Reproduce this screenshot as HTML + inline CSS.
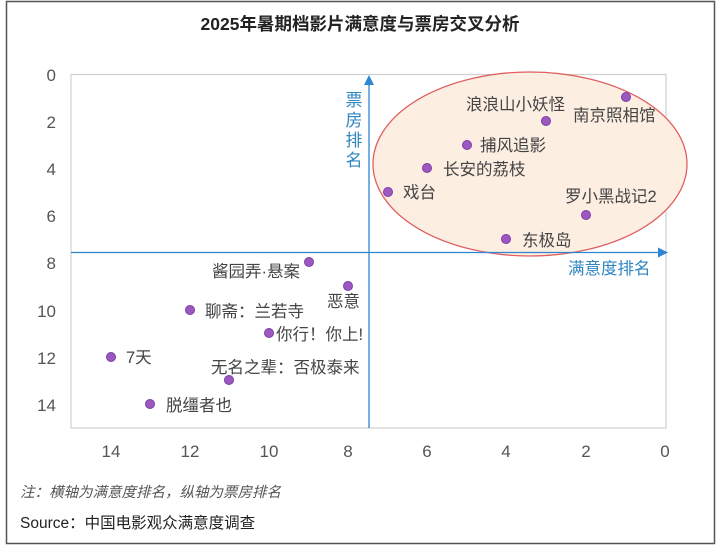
<!DOCTYPE html>
<html><head><meta charset="utf-8"><style>
body{margin:0;background:#fff;}
svg text{font-family:"Liberation Sans","Noto Sans CJK SC",sans-serif;}
</style></head><body>
<svg width="719" height="546" viewBox="0 0 719 546" xmlns="http://www.w3.org/2000/svg">
<rect x="6.5" y="1.5" width="708" height="542" fill="#fff" stroke="#555" stroke-width="1.5"/>
<text x="360" y="30" font-size="17.5" font-weight="bold" text-anchor="middle" fill="#222">2025年暑期档影片满意度与票房交叉分析</text>
<rect x="71" y="74.5" width="595" height="353.5" fill="none" stroke="#d0d0d0" stroke-width="1.2"/>
<g font-size="17" fill="#555" text-anchor="end">
<text x="56" y="81">0</text><text x="56" y="128">2</text><text x="56" y="175">4</text><text x="56" y="222">6</text>
<text x="56" y="269">8</text><text x="56" y="317">10</text><text x="56" y="364">12</text><text x="56" y="411">14</text>
</g>
<g font-size="17" fill="#555" text-anchor="middle">
<text x="111" y="457">14</text><text x="190" y="457">12</text><text x="269" y="457">10</text><text x="348" y="457">8</text>
<text x="427" y="457">6</text><text x="506" y="457">4</text><text x="586" y="457">2</text><text x="665" y="457">0</text>
</g>
<ellipse cx="530" cy="164" rx="157" ry="92" fill="#fdeee2" stroke="#e06060" stroke-width="1.3"/>
<line x1="71" y1="252.5" x2="660" y2="252.5" stroke="#2e86d0" stroke-width="1.3"/>
<polygon points="668,252.5 658,247.5 658,257.5" fill="#2e86d0"/>
<line x1="369" y1="82" x2="369" y2="428" stroke="#2e86d0" stroke-width="1.3"/>
<polygon points="369,75 364,85 374,85" fill="#2e86d0"/>
<g font-size="17" fill="#2e86c0" text-anchor="middle">
<text x="354" y="106">票</text><text x="354" y="126">房</text><text x="354" y="146">排</text><text x="354" y="166">名</text>
</g>
<text x="568" y="274" font-size="16.5" fill="#2e86c0">满意度排名</text>
<g fill="#9b59c0" stroke="#7d3ca8" stroke-width="1">
<circle cx="626" cy="97" r="4.5"/><circle cx="546" cy="121" r="4.5"/><circle cx="467" cy="145" r="4.5"/>
<circle cx="427" cy="168" r="4.5"/><circle cx="388" cy="192" r="4.5"/><circle cx="586" cy="215" r="4.5"/>
<circle cx="506" cy="239" r="4.5"/><circle cx="309" cy="262" r="4.5"/><circle cx="348" cy="286" r="4.5"/>
<circle cx="190" cy="310" r="4.5"/><circle cx="269" cy="333" r="4.5"/><circle cx="111" cy="357" r="4.5"/>
<circle cx="229" cy="380" r="4.5"/><circle cx="150" cy="404" r="4.5"/>
</g>
<g font-size="16.5" fill="#444">
<text x="573" y="121">南京照相馆</text>
<text x="466" y="110">浪浪山小妖怪</text>
<text x="480" y="151">捕风追影</text>
<text x="443" y="175">长安的荔枝</text>
<text x="403" y="198">戏台</text>
<text x="565" y="202">罗小黑战记2</text>
<text x="522" y="246">东极岛</text>
<text x="212" y="277">酱园弄·悬案</text>
<text x="327" y="307">恶意</text>
<text x="205" y="317">聊斋：兰若寺</text>
<text x="276" y="340">你行！你上!</text>
<text x="126" y="363">7天</text>
<text x="211" y="373">无名之辈：否极泰来</text>
<text x="166" y="411">脱缰者也</text>
</g>
<text x="20" y="497" font-size="14.5" font-style="italic" fill="#555">注：横轴为满意度排名，纵轴为票房排名</text>
<text x="20" y="528" font-size="15.5" fill="#222">Source：中国电影观众满意度调查</text>
</svg>
</body></html>
